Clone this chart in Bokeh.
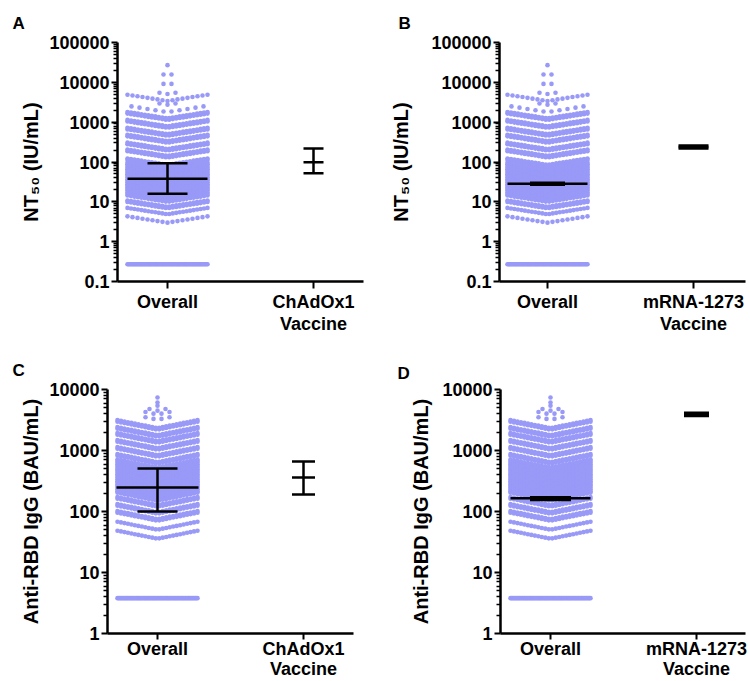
import numpy as np
from bokeh.plotting import figure
from bokeh.models import Range1d, FixedTicker, CustomJSTickFormatter, ColumnDataSource
from bokeh.layouts import column, row
from bokeh.embed import file_html
from bokeh.resources import INLINE

FONT = "Liberation Sans"
DOT = "#9999f8"

# ---------------- data ----------------
# NT50 (IU/mL), overall cohort: swarm bands (value at band centre, number of points)
nt50_band_values = [3.0, 4.88, 6.87, 9.97, 13.3, 17.6, 23.5, 31.2, 41.5, 55.3,
                    77.8, 130, 194, 306, 457, 721, 1140, 1790, 2740, 3400,
                    5100, 8800, 15200, 27000]
nt50_band_counts = [17, 24, 48, 72, 72, 72, 72, 72, 72, 72,
                    48, 48, 48, 48, 48, 48, 48, 10, 3, 17,
                    3, 2, 2, 1]
nt50_lod_value = 0.27
nt50_lod_count = 70

# Anti-RBD IgG (BAU/mL), overall cohort
rbd_band_values = [35.8, 50.3, 70.7, 92, 120, 150, 182, 219, 265, 320, 386, 467,
                   608, 791, 1031, 1342, 1684, 2193, 3200, 3900, 4500, 5400, 6100, 7400]
rbd_band_counts = [24, 24, 48, 48, 48, 72, 72, 72, 72, 72, 72, 72,
                   48, 48, 48, 48, 48, 48, 4, 4, 3, 1, 1, 1]
rbd_lod_value = 3.8
rbd_lod_count = 70

# summary bars: [Overall, Vaccine]
a_categories = ["Overall", "ChAdOx1\nVaccine"]
a_medians = [38, 98]
a_lows = [16, 52]
a_highs = [93, 219]

b_categories = ["Overall", "mRNA-1273\nVaccine"]
b_medians = [28.5, 238]
b_lows = [26.8, 217]
b_highs = [30.3, 260]

c_categories = ["Overall", "ChAdOx1\nVaccine"]
c_medians = [247, 360]
c_lows = [100, 190]
c_highs = [507, 660]

d_categories = ["Overall", "mRNA-1273\nVaccine"]
d_medians = [165, 3900]
d_lows = [155, 3690]
d_highs = [172, 4160]

nt50_ticks = [0.1, 1, 10, 100, 1000, 10000, 100000]
rbd_ticks = [1, 10, 100, 1000, 10000]

PX_PER_UNIT = 146.0


def swarm(values, counts, center, ppd, slope, halfw=40.0, cap=24, row_gap=1.6, max_sp=8.0):
    xs, ys = [], []
    for v, n in zip(values, counts):
        nrows = -(-n // cap)
        left = n
        for r in range(nrows):
            k = min(cap, left)
            left -= k
            sp = min(2 * halfw / (k - 1), max_sp) if k > 1 else 0.0
            for i in range(k):
                dx = (i - (k - 1) / 2) * sp
                off = slope * abs(dx) + r * row_gap
                xs.append(center + dx / PX_PER_UNIT)
                ys.append(v * 10 ** (off / ppd))
    return xs, ys


def minor_list(ticks):
    out = []
    for t in ticks[:-1]:
        out += [t * m for m in range(2, 10)]
    return out


def make_panel(letter, title_offset, title_standoff, ylabel, ylabel_standoff, ticks,
               band_vals, band_counts, lod_val, lod_cnt, cats, meds, lows, highs,
               cap_px, med_px, width, height, bl, br, bt, bb, left_pad, slope,
               xlab_standoff, xlab_line_height, xtick_out):
    frame_w = width - bl - br
    frame_h = height - bt - bb
    ppd = frame_h / np.log10(ticks[-1] / ticks[0])
    x_lo = 1 - left_pad / PX_PER_UNIT
    x_hi = x_lo + frame_w / PX_PER_UNIT
    p = figure(width=width, height=height, x_range=Range1d(x_lo, x_hi),
               y_range=Range1d(ticks[0], ticks[-1]), y_axis_type="log",
               output_backend="svg", toolbar_location=None,
               min_border_left=bl, min_border_right=br, min_border_top=bt,
               min_border_bottom=bb, title=letter)
    p.outline_line_color = None
    p.xgrid.visible = False
    p.ygrid.visible = False
    p.background_fill_color = "white"
    p.border_fill_color = "white"

    p.title.align = "left"
    p.title.offset = title_offset
    p.title.text_font = FONT
    p.title.text_font_size = "17px"
    p.title.text_font_style = "bold"
    p.title.text_color = "black"
    p.title.standoff = title_standoff

    # swarm
    xs, ys = swarm(band_vals, band_counts, 1.0, ppd, slope)
    lx, ly = swarm([lod_val], [lod_cnt], 1.0, ppd, 0.0, cap=lod_cnt)
    src = ColumnDataSource(dict(x=xs + lx, y=ys + ly))
    p.scatter("x", "y", source=src, size=4.6, fill_color=DOT, line_color=None)

    # summary bars
    cx = [1.0, 2.0]
    capw = [c / PX_PER_UNIT for c in cap_px]
    medw = [m / PX_PER_UNIT for m in med_px]
    s = ColumnDataSource(dict(
        cx=cx, lo=lows, hi=highs, med=meds,
        cl=[c - w for c, w in zip(cx, capw)], cr=[c + w for c, w in zip(cx, capw)],
        ml=[c - w for c, w in zip(cx, medw)], mr=[c + w for c, w in zip(cx, medw)]))
    kw = dict(source=s, line_color="black", line_width=2.5)
    p.segment(x0="cx", y0="lo", x1="cx", y1="hi", **kw)
    p.segment(x0="cl", y0="lo", x1="cr", y1="lo", **kw)
    p.segment(x0="cl", y0="hi", x1="cr", y1="hi", **kw)
    p.segment(x0="ml", y0="med", x1="mr", y1="med", **kw)

    # y axis
    ya = p.yaxis[0]
    ya.ticker = FixedTicker(ticks=ticks, minor_ticks=minor_list(ticks))
    ya.formatter = CustomJSTickFormatter(code="return tick.toString();")
    ya.axis_label = ylabel
    ya.axis_label_text_font = FONT
    ya.axis_label_text_font_size = "20px"
    ya.axis_label_text_font_style = "bold"
    ya.axis_label_text_color = "black"
    ya.axis_label_standoff = ylabel_standoff
    ya.major_label_text_font = FONT
    ya.major_label_text_font_size = "18px"
    ya.major_label_text_font_style = "bold"
    ya.major_label_text_color = "black"
    ya.major_label_standoff = 2
    ya.axis_line_width = 2.5
    ya.axis_line_color = "black"
    ya.major_tick_line_width = 2
    ya.major_tick_line_color = "black"
    ya.major_tick_out = 6
    ya.major_tick_in = 0
    ya.minor_tick_line_width = 1.5
    ya.minor_tick_line_color = "black"
    ya.minor_tick_out = 4
    ya.minor_tick_in = 0

    # x axis
    xa = p.xaxis[0]
    xa.ticker = FixedTicker(ticks=[1, 2])
    xa.major_label_overrides = {1: cats[0], 2: cats[1]}
    xa.major_label_text_font = FONT
    xa.major_label_text_font_size = "18px"
    xa.major_label_text_font_style = "bold"
    xa.major_label_text_color = "black"
    xa.major_label_text_line_height = xlab_line_height
    xa.major_label_standoff = xlab_standoff
    xa.axis_line_width = 2.5
    xa.axis_line_color = "black"
    xa.major_tick_line_width = 2
    xa.major_tick_line_color = "black"
    xa.major_tick_out = xtick_out
    xa.major_tick_in = 0
    xa.minor_tick_line_color = None
    return p


pA = make_panel("A", -105, 19, "NT\u2085\u2080 (IU/mL)", 4, nt50_ticks, nt50_band_values,
                nt50_band_counts, nt50_lod_value, nt50_lod_count,
                a_categories, a_medians, a_lows, a_highs,
                [20, 10], [40, 10], 375, 336, 117, 12, 42, 52, 50, 0.16, 3, 1.1, 7)
pB = make_panel("B", -101, 19, "NT\u2085\u2080 (IU/mL)", 16, nt50_ticks, nt50_band_values,
                nt50_band_counts, nt50_lod_value, nt50_lod_count,
                b_categories, b_medians, b_lows, b_highs,
                [17.5, 15], [40, 15], 375, 336, 124, 5, 42, 52, 48, 0.16, 3, 1.1, 7)
pC = make_panel("C", -95, 20, "Anti-RBD IgG (BAU/mL)", 4, rbd_ticks, rbd_band_values,
                rbd_band_counts, rbd_lod_value, rbd_lod_count,
                c_categories, c_medians, c_lows, c_highs,
                [20, 11.5], [41, 11.5], 375, 355, 107, 22, 53, 58, 50, 0.2, -1, 1.0, 6)
pD = make_panel("D", -103, 13, "Anti-RBD IgG (BAU/mL)", 7, rbd_ticks, rbd_band_values,
                rbd_band_counts, rbd_lod_value, rbd_lod_count,
                d_categories, d_medians, d_lows, d_highs,
                [20.5, 12.5], [40, 12.5], 375, 355, 125, 5, 53, 58, 50, 0.2, -1, 1.0, 6)

layout = column(row(pA, pB), row(pC, pD), width=750, height=681,
                styles={"overflow": "hidden"})
open("out.html", "w").write(file_html(layout, INLINE))
